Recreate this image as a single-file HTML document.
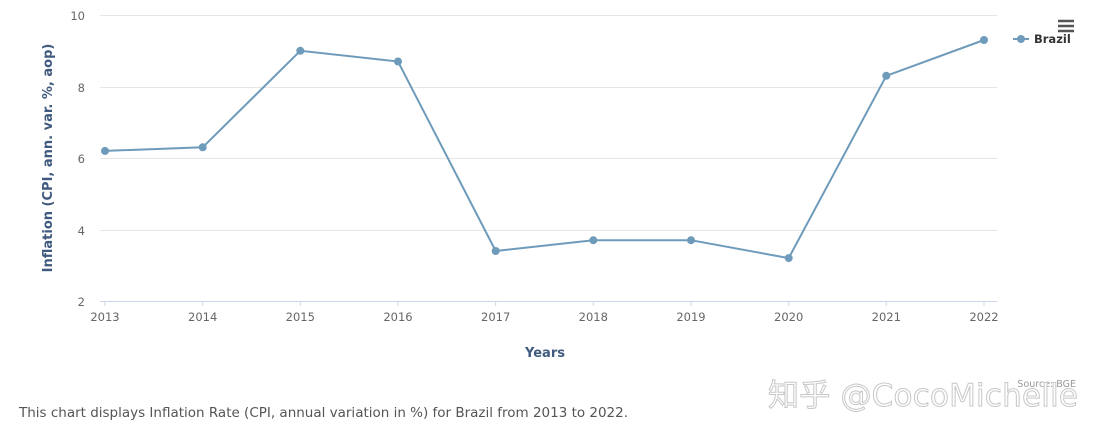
<!DOCTYPE html>
<html><head><meta charset="utf-8"><style>
body{margin:0;background:#fff;width:1105px;height:441px;overflow:hidden;font-family:"DejaVu Sans","Noto Sans CJK SC",sans-serif}
</style></head><body>
<svg width="1105" height="441" xmlns="http://www.w3.org/2000/svg" font-family="DejaVu Sans, Noto Sans CJK SC, sans-serif">
<g stroke="#e6e6e6" stroke-width="1">
<line x1="100" y1="15.5" x2="997" y2="15.5"/>
<line x1="100" y1="87.5" x2="997" y2="87.5"/>
<line x1="100" y1="158.5" x2="997" y2="158.5"/>
<line x1="100" y1="230.5" x2="997" y2="230.5"/>
</g>
<line x1="100" y1="301.5" x2="997" y2="301.5" stroke="#ccd6eb"/>
<g stroke="#ccd6eb"><line x1="105" y1="301" x2="105" y2="306"/><line x1="202.7" y1="301" x2="202.7" y2="306"/><line x1="300.3" y1="301" x2="300.3" y2="306"/><line x1="398" y1="301" x2="398" y2="306"/><line x1="495.7" y1="301" x2="495.7" y2="306"/><line x1="593.3" y1="301" x2="593.3" y2="306"/><line x1="691" y1="301" x2="691" y2="306"/><line x1="788.7" y1="301" x2="788.7" y2="306"/><line x1="886.3" y1="301" x2="886.3" y2="306"/><line x1="984" y1="301" x2="984" y2="306"/></g>
<g font-size="11.5" fill="#666" text-anchor="end">
<text x="85" y="20">10</text><text x="85" y="92">8</text><text x="85" y="163">6</text><text x="85" y="235">4</text><text x="85" y="306">2</text>
</g>
<g font-size="11.5" fill="#666" text-anchor="middle">
<text x="105" y="321">2013</text><text x="202.7" y="321">2014</text><text x="300.3" y="321">2015</text><text x="398" y="321">2016</text><text x="495.7" y="321">2017</text><text x="593.3" y="321">2018</text><text x="691" y="321">2019</text><text x="788.7" y="321">2020</text><text x="886.3" y="321">2021</text><text x="984" y="321">2022</text>
</g>
<text x="545" y="357" font-size="13" font-weight="bold" fill="#3f5a7e" text-anchor="middle">Years</text>
<text transform="translate(52,158) rotate(-90)" font-size="13" font-weight="bold" fill="#3f5a7e" text-anchor="middle">Inflation (CPI, ann. var. %, aop)</text>
<polyline fill="none" stroke="#6f9bbb" stroke-width="2" points="105,150.9 202.7,147.3 300.3,50.8 398,61.5 495.7,251 593.3,240.2 691,240.2 788.7,258.1 886.3,75.8 984,40"/>
<g fill="#6f9bbb"><circle cx="105" cy="150.9" r="4"/><circle cx="202.7" cy="147.3" r="4"/><circle cx="300.3" cy="50.8" r="4"/><circle cx="398" cy="61.5" r="4"/><circle cx="495.7" cy="251" r="4"/><circle cx="593.3" cy="240.2" r="4"/><circle cx="691" cy="240.2" r="4"/><circle cx="788.7" cy="258.1" r="4"/><circle cx="886.3" cy="75.8" r="4"/><circle cx="984" cy="40" r="4"/></g>
<line x1="1013" y1="39" x2="1029" y2="39" stroke="#6f9bbb" stroke-width="2"/><circle cx="1021" cy="39" r="4" fill="#6f9bbb"/>
<text x="1034" y="43" font-size="11.5" font-weight="bold" fill="#333">Brazil</text>
<g stroke="#555" stroke-width="2.5"><line x1="1058" y1="21" x2="1074" y2="21"/><line x1="1058" y1="26" x2="1074" y2="26"/><line x1="1058" y1="31" x2="1074" y2="31"/></g>
<text x="1076" y="387" font-size="9.5" fill="#999" text-anchor="end">Source: BGE</text>
<text x="768" y="406" font-size="31" fill="#fff" stroke="#c8c8c8" stroke-width="1" textLength="310">知乎 @CocoMichelle</text>
<text x="19" y="417" font-size="13.5" fill="#555" textLength="609">This chart displays Inflation Rate (CPI, annual variation in %) for Brazil from 2013 to 2022.</text>
</svg>
</body></html>
